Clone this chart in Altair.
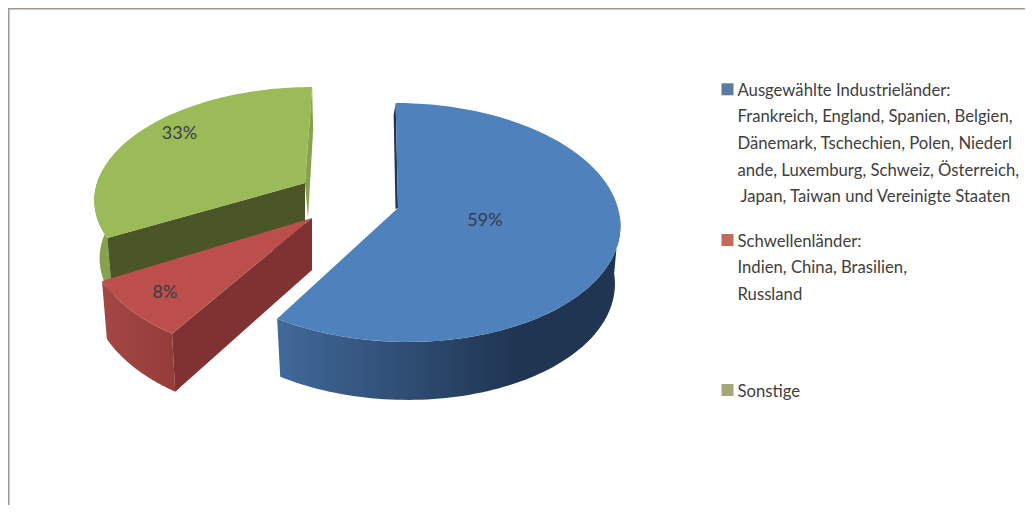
import math
import altair as alt

# ---- data ----
shares = [59, 8, 33]
colors_top = ["#4f81bd", "#bc4f4c", "#9bbb59"]
legend_lines = [
    "Ausgewählte Industrieländer:",
    "Frankreich, England, Spanien, Belgien,",
    "Dänemark, Tschechien, Polen, Niederl",
    "ande, Luxemburg, Schweiz, Österreich,",
    "Japan, Taiwan und Vereinigte Staaten",
    "Schwellenländer:",
    "Indien, China, Brasilien,",
    "Russland",
    "Sonstige",
]
legend_colors = ["#5b7ba3", "#c46a5a", "#a5a876"]

# ---- layout (page pixels; page margin is 8) ----
OX, OY = 8, 8
W, H = 1017, 497
K = 0.121
DEPTH = 58
SHRINK = 0.975
geom = [  # apex x/y, ellipse centre x, a, b, h
    dict(ax=398, cy=208, cx=401, a=217, b=117.7, h=-6),
    dict(ax=312, cy=218, cx=297.4, a=210, b=123, h=0),
    dict(ax=305, cy=183, cx=305, a=208, b=107.6, h=8),
]
label_pos = [(485, 221), (165, 293), (179.5, 134)]
legend_y = [96, 122, 149, 176, 202, 247, 273, 300, 397]
legend_x = [737.5, 737.5, 737.5, 737.5, 740.5, 737.5, 737.5, 737.5, 737.5]
square_pos = [(727.5, 89.3), (727.5, 240), (727.5, 390)]
FONT = "Lato"


def pt(g, pct):
    t = 2 * math.pi * pct / 100
    d = math.cos(t)
    s = 1 / (1 + K * d)
    return (g["cx"] + (g["a"] * math.sin(t) + g["h"] * d) * s, g["cy"] - g["b"] * d * s)


def arc(g, p0, p1, n=80):
    return [pt(g, p0 + (p1 - p0) * i / n) for i in range(n + 1)]


def down(g, p, depth=DEPTH):
    return (g["cx"] + (p[0] - g["cx"]) * SHRINK, p[1] + depth)


def poly(points, fill):
    ring = [[x - OX, y - OY] for x, y in points]
    ring.append(ring[0])
    feat = {"type": "Feature", "properties": {}, "geometry": {"type": "Polygon", "coordinates": [ring]}}
    return alt.Chart(alt.Data(values=[feat])).mark_geoshape(fill=fill, stroke=None).project(
        type="identity", scale=1, translate=[0, 0]
    )


def grad(c0, c1, off=1.0):
    return alt.Gradient(
        gradient="linear", x1=0, x2=1, y1=0, y2=0,
        stops=[alt.GradientStop(offset=0, color=c0), alt.GradientStop(offset=off, color=c1),
               alt.GradientStop(offset=1, color=c1)],
    )


cum = [0, shares[0], shares[0] + shares[1], sum(shares)]
blue, red, green = geom
layers = []

# green slice
g_arc = arc(green, cum[2], cum[3])
a = (green["ax"], green["cy"])
wall = arc(green, cum[2], cum[2] + 9)
layers.append(poly(wall + [down(green, p) for p in reversed(wall)], "#86a24d"))
layers.append(poly([g_arc[-1], (g_arc[-1][0] + 1, g_arc[-1][1] + 43), (a[0] + 3, a[1] + 35), a], "#86a24d"))
layers.append(poly([a, g_arc[0], down(green, g_arc[0]), (a[0], a[1] + DEPTH)], "#4a5628"))
layers.append(poly([a] + g_arc, colors_top[2]))

# red slice
r_arc = arc(red, cum[1], cum[2])
a = (red["ax"], red["cy"])
layers.append(poly(r_arc + [down(red, p) for p in reversed(r_arc)], grad("#a34744", "#953c39")))
layers.append(poly([a, r_arc[0], down(red, r_arc[0]), (a[0], a[1] + 52)], "#7f3231"))
layers.append(poly([a] + r_arc, colors_top[1]))

# blue slice
b_arc = arc(blue, cum[0], cum[1])
a = (blue["ax"], blue["cy"])
wall = arc(blue, 26, cum[1])
layers.append(poly(wall + [down(blue, p) for p in reversed(wall)], grad("#41699a", "#1f3552", 0.7)))
layers.append(poly([b_arc[0], a, (a[0] - 2.5, a[1] + 1), (b_arc[0][0] - 2, b_arc[0][1] + 12)], "#1f3552"))
layers.append(poly([a] + b_arc, colors_top[0]))

# percentage labels
pct_rows = [{"x": x - OX, "y": y - OY, "t": f"{v}%"} for v, (x, y) in zip(shares, label_pos)]
layers.append(
    alt.Chart(alt.Data(values=pct_rows)).mark_text(
        font=FONT, fontSize=18, color="#3a3a46", align="center", baseline="middle"
    ).encode(x=alt.X("x:Q", scale=None), y=alt.Y("y:Q", scale=None), text="t:N")
)

# legend
sq_rows = [{"x": x - OX, "y": y - OY, "c": c} for (x, y), c in zip(square_pos, legend_colors)]
layers.append(
    alt.Chart(alt.Data(values=sq_rows)).mark_square(size=144, opacity=1, filled=True).encode(
        x=alt.X("x:Q", scale=None), y=alt.Y("y:Q", scale=None),
        color=alt.Color("c:N", scale=None),
    )
)
leg_rows = [{"x": x - OX, "y": y - OY, "t": t} for t, x, y in zip(legend_lines, legend_x, legend_y)]
layers.append(
    alt.Chart(alt.Data(values=leg_rows)).mark_text(
        font=FONT, fontSize=16.7, color="#404040", align="left", baseline="alphabetic"
    ).encode(x=alt.X("x:Q", scale=None), y=alt.Y("y:Q", scale=None), text="t:N")
)

# frame
blank = alt.Data(values=[{"a": 1}])
layers.append(alt.Chart(blank).mark_rule(color="#a09490", strokeWidth=1.5).encode(
    x=alt.value(0), x2=alt.value(W), y=alt.value(0.75)))
layers.append(alt.Chart(blank).mark_rule(color="#a09490", strokeWidth=1.5).encode(
    x=alt.value(0.75), y=alt.value(0), y2=alt.value(H)))

chart = alt.layer(*layers).properties(width=W, height=H, padding=0, autosize="none").configure_view(stroke=None)
chart.save("out.html", embed_options={"renderer": "svg", "actions": False})
